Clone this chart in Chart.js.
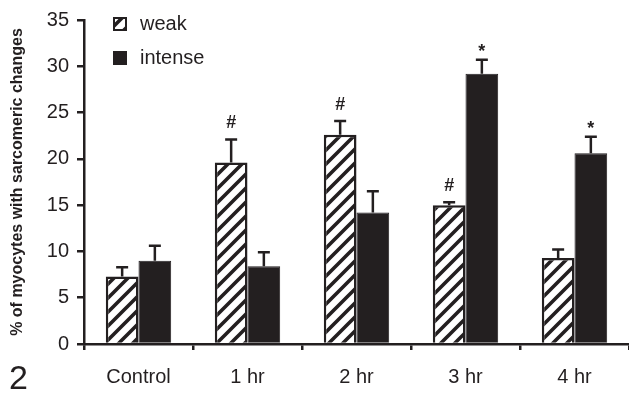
<!DOCTYPE html>
<html>
<head>
<meta charset="utf-8">
<script src="https://cdn.jsdelivr.net/npm/chart.js@4"></script>
<style>
  html, body { margin: 0; padding: 0; background: #fff; }
  #wrap { width: 629px; height: 394px; }
</style>
</head>
<body>
<div id="wrap"><canvas id="sarcChart" width="629" height="394"></canvas></div>
<script>
// data
const categories = ['Control', '1 hr', '2 hr', '3 hr', '4 hr'];
const weakValues = [7.3, 19.6, 22.6, 15.0, 9.3];
const weakErr = [1.0, 2.5, 1.5, 0.3, 0.9];
const intenseValues = [9.0, 8.4, 14.2, 29.2, 20.6];
const intenseErr = [1.6, 1.5, 2.3, 1.5, 1.8];
const weakMarks = ['', '#', '#', '#', ''];
const intenseMarks = ['', '', '', '*', '*'];
const yTicks = [0, 5, 10, 15, 20, 25, 30, 35];

const INK = '#231f20';
const FONT = '"Liberation Sans", Arial, sans-serif';

// diagonal hatch for the "weak" bars
function makeHatch() {
    const size = 14;
    const c = document.createElement('canvas');
    c.width = size;
    c.height = size;
    const g = c.getContext('2d');
    g.fillStyle = '#fff';
    g.fillRect(0, 0, size, size);
    g.strokeStyle = INK;
    g.lineWidth = 3.6;
    g.beginPath();
    g.moveTo(-size / 2, size / 2); g.lineTo(size / 2, -size / 2);
    g.moveTo(0, size); g.lineTo(size, 0);
    g.moveTo(size / 2, size * 1.5); g.lineTo(size * 1.5, size / 2);
    g.stroke();
    return g.createPattern(c, 'repeat');
}

const hatch = makeHatch();

// error bars (upper only) and significance marks
const errorBarPlugin = {
    id: 'errorBars',
    afterDatasetsDraw(chart) {
        const ctx = chart.ctx;
        const yScale = chart.scales.y;
        chart.data.datasets.forEach((ds, di) => {
            const meta = chart.getDatasetMeta(di);
            meta.data.forEach((bar, i) => {
                const top = yScale.getPixelForValue(ds.data[i] + ds.errors[i]);
                ctx.save();
                ctx.strokeStyle = INK;
                ctx.lineWidth = 2.5;
                ctx.beginPath();
                ctx.moveTo(bar.x, bar.y);
                ctx.lineTo(bar.x, top);
                ctx.moveTo(bar.x - 6, top);
                ctx.lineTo(bar.x + 6, top);
                ctx.stroke();
                const mark = ds.marks[i];
                if (mark) {
                    ctx.fillStyle = INK;
                    ctx.textAlign = 'center';
                    ctx.textBaseline = 'middle';
                    if (mark === '#') {
                        ctx.font = 'bold 18px ' + FONT;
                        ctx.fillText(mark, bar.x, top - 16);
                    } else {
                        ctx.font = 'bold 18px ' + FONT;
                        ctx.fillText(mark, bar.x, top - 8);
                    }
                }
                ctx.restore();
            });
        });
    }
};

// legend in the top-left of the plot and the panel number
const decorPlugin = {
    id: 'decor',
    afterDraw(chart) {
        const ctx = chart.ctx;
        const area = chart.chartArea;
        const x0 = area.left + 30;
        ctx.save();
        ctx.font = '20px ' + FONT;
        ctx.textBaseline = 'middle';
        ctx.textAlign = 'left';
        chart.data.datasets.forEach((ds, i) => {
            const cy = area.top + 4 + i * 34;
            ctx.fillStyle = ds.backgroundColor;
            ctx.fillRect(x0, cy - 6, 12, 12);
            ctx.strokeStyle = INK;
            ctx.lineWidth = 2;
            ctx.strokeRect(x0, cy - 6, 12, 12);
            ctx.fillStyle = INK;
            ctx.fillText(ds.label, x0 + 26, cy);
        });
        ctx.font = '34px ' + FONT;
        ctx.fillText('2', 9, 380);
        ctx.restore();
    }
};

const ctx = document.getElementById('sarcChart').getContext('2d');
new Chart(ctx, {
    type: 'bar',
    data: {
        labels: categories,
        datasets: [{
            label: 'weak',
            data: weakValues,
            errors: weakErr,
            marks: weakMarks,
            backgroundColor: hatch,
            borderColor: INK,
            borderWidth: 2.5,
            categoryPercentage: 0.6,
            barPercentage: 1.0
        }, {
            label: 'intense',
            data: intenseValues,
            errors: intenseErr,
            marks: intenseMarks,
            backgroundColor: INK,
            borderColor: INK,
            borderWidth: 1,
            categoryPercentage: 0.6,
            barPercentage: 1.0
        }]
    },
    options: {
        responsive: false,
        animation: false,
        layout: { padding: { top: 19, right: 0, left: 0, bottom: 0 } },
        plugins: {
            legend: { display: false },
            tooltip: { enabled: false }
        },
        scales: {
            x: {
                offset: true,
                afterFit: (s) => { s.height = 50; },
                border: { display: true, color: INK, width: 2.5 },
                grid: {
                    drawOnChartArea: false,
                    drawTicks: true,
                    tickLength: 6,
                    color: INK,
                    lineWidth: 2.5,
                    offset: true
                },
                ticks: {
                    color: INK,
                    font: { family: FONT, size: 20 },
                    padding: 15
                }
            },
            y: {
                min: 0,
                max: 35,
                afterFit: (s) => { s.width = 84; },
                afterBuildTicks: (s) => { s.ticks = yTicks.map(v => ({ value: v })); },
                border: { display: true, color: INK, width: 2.5 },
                grid: {
                    drawOnChartArea: false,
                    drawTicks: true,
                    tickLength: 7,
                    color: INK,
                    lineWidth: 2.5
                },
                ticks: {
                    color: INK,
                    font: { family: FONT, size: 20 },
                    padding: 8
                },
                title: {
                    display: true,
                    text: '% of myocytes with sarcomeric changes',
                    color: INK,
                    font: { family: FONT, size: 16, weight: 'bold' },
                    padding: { top: 8, bottom: 0 }
                }
            }
        }
    },
    plugins: [errorBarPlugin, decorPlugin]
});
</script>
</body>
</html>
